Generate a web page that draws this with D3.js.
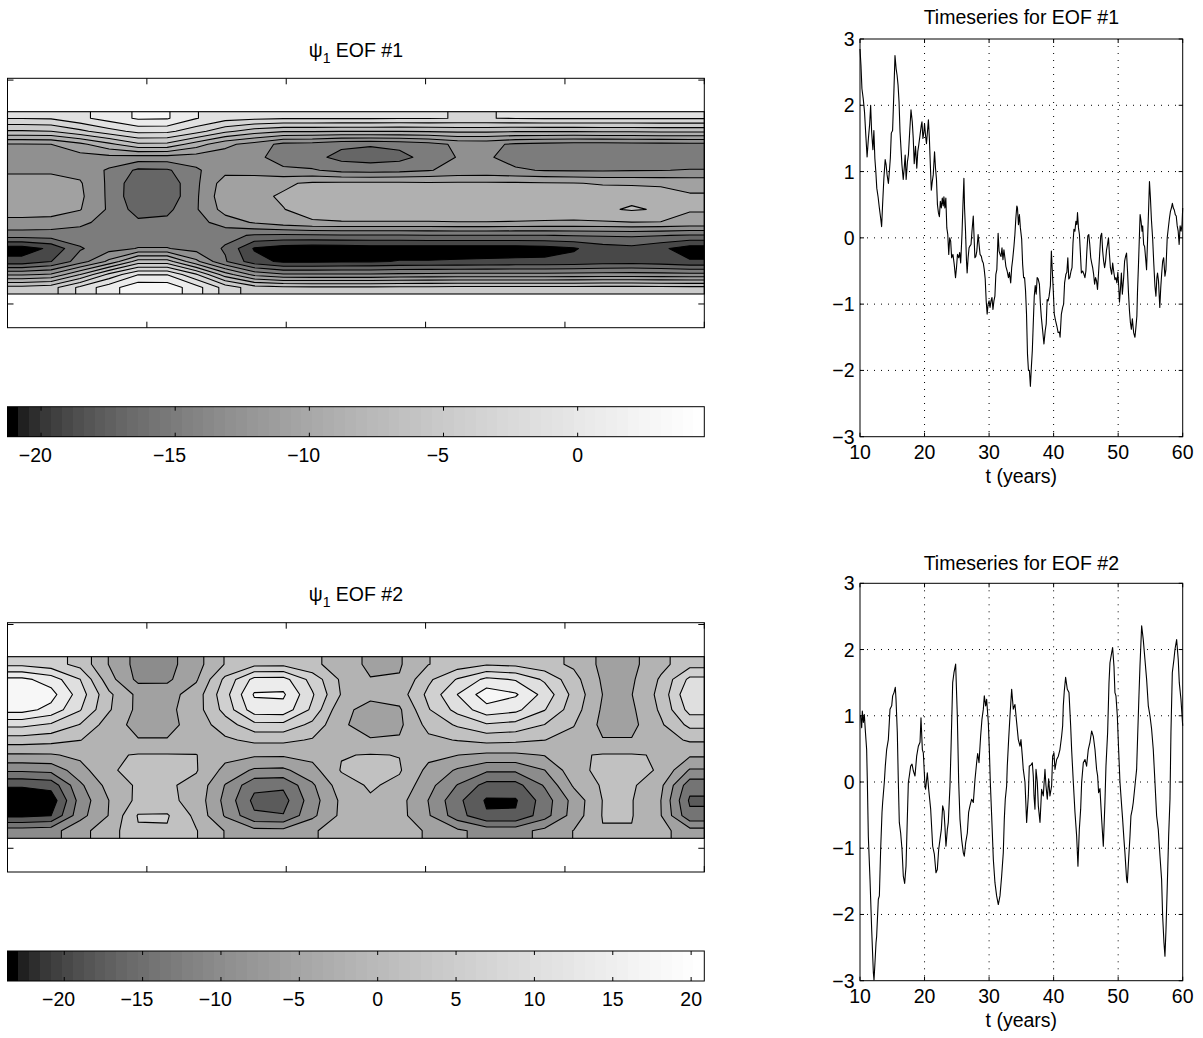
<!DOCTYPE html>
<html>
<head>
<meta charset="utf-8">
<script src="https://cdn.jsdelivr.net/npm/d3@7"></script>
<style>
  body { margin: 0; background: #fff; }
  text { font-family: "Liberation Sans", Arial, Helvetica, sans-serif; font-size: 19.5px; fill: #000; }
</style>
</head>
<body>
<svg id="fig" width="1203" height="1038"></svg>
<script>
// ---- data ----
// EOF #1 spatial pattern, rows top -> bottom, columns left -> right
const eof1Field = [
  [-1.9,-1.8,-0.5,0.9,2.3,2.2,0.1,-1.2,-1.6,-1.8,-1.8,-1.8,-1.8,-1.9,-1.9,-2.05,-2.05,-1.9,-1.8,-1.8,-1.8,-1.8,-1.8,-1.8],
  [-6.2,-6.0,-4.5,-2.8,-1.4,-1.5,-3.2,-5.5,-7.0,-7.8,-7.8,-7.9,-7.9,-7.9,-7.8,-7.6,-7.6,-7.8,-7.8,-7.8,-7.7,-7.7,-7.6,-7.6],
  [-12.1,-12.0,-10.5,-8.5,-6.4,-6.5,-9.0,-11.5,-12.8,-14.6,-14.8,-15.6,-15.8,-15.5,-14.8,-13.6,-13.5,-14.3,-14.6,-14.8,-14.8,-14.7,-14.6,-14.5],
  [-13.0,-13.0,-12.8,-12.6,-12.8,-12.8,-13.0,-13.0,-13.4,-15.0,-15.4,-16.6,-16.9,-16.6,-15.3,-13.9,-13.8,-14.6,-15.2,-15.3,-15.4,-15.4,-15.3,-15.2],
  [-12.4,-12.4,-12.6,-14.3,-16.4,-16.3,-14.3,-12.6,-12.8,-13.6,-13.8,-14.6,-14.8,-14.6,-14.1,-13.5,-13.4,-13.8,-14.1,-14.2,-14.2,-14.1,-14.05,-13.9],
  [-11.0,-11.0,-11.8,-14.4,-17.5,-17.3,-14.4,-11.0,-10.8,-10.3,-9.7,-9.6,-9.6,-9.6,-9.7,-9.7,-9.7,-9.7,-9.8,-9.9,-10.2,-10.3,-10.4,-10.6],
  [-10.6,-10.6,-11.6,-14.4,-17.6,-17.4,-14.3,-10.6,-10.4,-9.8,-9.2,-9.0,-8.9,-8.9,-8.9,-8.9,-8.9,-8.9,-8.9,-8.8,-8.7,-8.5,-8.9,-9.8],
  [-11.0,-11.0,-11.9,-14.3,-16.9,-16.5,-14.2,-11.2,-10.6,-10.05,-9.3,-9.1,-9.0,-9.0,-9.0,-9.0,-9.0,-8.9,-8.8,-8.7,-8.3,-7.8,-8.2,-9.9],
  [-12.6,-12.8,-13.5,-14.8,-15.6,-15.5,-14.8,-13.0,-11.8,-10.8,-10.2,-10.1,-10.1,-10.1,-10.1,-10.05,-10.05,-10.1,-10.2,-10.3,-10.2,-10.05,-10.1,-10.4],
  [-15.0,-15.0,-15.0,-15.2,-15.4,-15.4,-15.2,-15.5,-16.2,-16.4,-16.3,-16.2,-16.2,-16.2,-16.1,-16.05,-16.05,-16.05,-16.05,-15.9,-15.8,-15.7,-15.9,-16.2],
  [-21.0,-19.6,-16.2,-14.8,-13.9,-13.9,-14.8,-16.2,-20.2,-21.0,-21.25,-21.2,-21.0,-21.0,-21.0,-21.0,-21.0,-21.0,-20.8,-20.2,-19.0,-18.6,-19.6,-21.0],
  [-19.3,-18.05,-15.0,-11.5,-7.1,-7.1,-11.5,-15.8,-19.2,-20.4,-20.4,-20.3,-20.2,-19.9,-19.9,-19.8,-19.7,-19.6,-19.6,-19.4,-19.05,-18.9,-19.2,-19.8],
  [-12.3,-11.8,-8.05,-3.5,-0.1,-0.1,-3.8,-9.05,-12.6,-13.8,-13.8,-13.8,-13.8,-13.6,-13.5,-13.4,-13.4,-13.4,-13.4,-13.3,-13.2,-13.2,-13.3,-13.4],
  [-5.3,-4.8,-1.5,1.2,3.4,3.3,0.8,-2.8,-5.05,-5.5,-5.6,-5.6,-5.6,-5.5,-5.5,-5.4,-5.4,-5.4,-5.4,-5.4,-5.3,-5.3,-5.4,-5.5]
];
const eof1Levels = [-20, -18, -16, -14, -12, -10, -8, -6, -4, -2, 0, 2, 4];
const eof1Range = [-21.25, 4.72];
const eof1Ticks = [-20, -15, -10, -5, 0];

// EOF #2 spatial pattern
const eof2Field = [
  [7.0,5.7,2.7,-4.2,-9.5,-9.4,-5.5,0.25,2.85,2.9,0.75,-1.55,-5.0,-4.4,-0.1,1.8,3.5,3.0,1.4,-0.7,-5.0,-5.0,-1.2,2.5],
  [17.0,14.2,8.05,-2.5,-9.05,-8.8,-4.5,5.0,13.3,13.5,6.5,-0.74,-3.8,-3.7,3.2,8.35,13.0,11.65,7.3,1.45,-4.6,-4.6,0.5,9.0],
  [19.7,17.5,10.05,0.8,-5.05,-5.6,-2.05,6.55,16.4,16.6,8.45,-0.29,-3.2,-2.05,5.05,12.05,18.3,16.5,10.6,2.7,-4.05,-4.1,1.2,11.5],
  [17.5,14.7,8.3,0.4,-5.05,-5.05,-1.8,5.4,14.3,14.5,7.1,-3.2,-5.05,-4.6,3.7,9.4,14.5,13.05,8.2,1.8,-4.6,-4.7,0.6,9.5],
  [9.05,7.4,3.8,-2.05,-5.3,-5.3,-2.2,2.05,6.7,6.8,2.95,-3.6,-5.2,-4.8,1.3,4.55,7.5,6.65,3.9,0.2,-5.05,-5.05,-0.6,5.05],
  [2.05,1.4,0.1,-1.8,-3.8,-3.8,-2.2,-0.65,0.9,0.9,-0.35,-2.5,-3.8,-3.6,-0.9,0.2,1.2,0.9,0.05,-1.3,-3.8,-3.8,-1.6,0.5],
  [-4.5,-4.4,-3.05,-0.6,0.3,0.3,0.1,-2.7,-3.45,-3.5,-2.75,-0.2,0.2,-0.1,-2.9,-3.96,-4.8,-4.8,-3.8,-0.5,0.3,0.3,-0.3,-3.4],
  [-11.3,-10.8,-5.6,-0.5,1.2,1.2,0.3,-5.2,-8.6,-8.8,-5.4,0.3,1.05,0.4,-5.1,-8.5,-11.3,-11.3,-8.05,-1.5,1.2,1.2,-0.4,-8.4],
  [-19.5,-18.6,-8.8,-2.5,0.6,0.6,-1.2,-8.2,-14.9,-15.3,-8.65,-1.8,0.5,-1.05,-6.65,-12.2,-17.5,-17.5,-11.6,-3.5,0.5,0.6,-3.05,-14.5],
  [-23.6,-22.5,-10.4,-3.95,1.05,1.05,-1.5,-9.2,-17.05,-17.5,-9.75,-3.2,-0.5,-2.6,-8.1,-14.95,-20.5,-20.4,-14.05,-6.6,0.1,0.2,-3.95,-16.6],
  [-21.05,-20.05,-9.4,-3.8,4.3,4.4,-1.05,-8.4,-15.4,-15.8,-8.9,-3.1,-1.7,-2.6,-7.6,-14.2,-19.6,-19.6,-13.6,-6.25,0.2,0.2,-3.8,-15.05],
  [-10.05,-9.6,-5.1,-2.05,3.6,3.6,0.2,-4.2,-6.65,-6.8,-4.4,-2.4,-1.9,-2.2,-4.5,-7.25,-9.5,-9.5,-6.9,-3.9,-0.2,-0.2,-2.6,-6.5]
];
const eof2Levels = [-20, -16, -12, -8, -4, 0, 4, 8, 12, 16, 20];
const eof2Range = [-23.62, 20.84];
const eof2Ticks = [-20, -15, -10, -5, 0, 5, 10, 15, 20];

const mapXTicks = [0, 1, 2, 3, 4, 5];
const mapYTicks = [0, 1];

// principal component timeseries
const ts1Years = [10.0,10.15,10.3,10.5,10.7,10.9,11.1,11.3,11.5,11.65,11.8,12.0,12.15,12.3,12.45,12.6,12.8,13.0,13.2,13.35,13.5,13.7,13.9,14.05,14.2,14.4,14.55,14.7,14.85,15.05,15.25,15.42,15.6,15.75,15.9,16.05,16.2,16.35,16.5,16.7,16.85,17.0,17.15,17.35,17.5,17.7,17.9,18.1,18.25,18.4,18.6,18.8,18.95,19.1,19.3,19.5,19.6,19.75,19.9,20.0,20.15,20.3,20.45,20.6,20.75,20.9,21.05,21.2,21.35,21.55,21.7,21.85,22.0,22.15,22.3,22.45,22.6,22.75,22.9,23.0,23.15,23.3,23.45,23.6,23.75,23.9,24.05,24.2,24.4,24.6,24.8,24.95,25.1,25.3,25.45,25.6,25.8,25.95,26.1,26.2,26.35,26.5,26.6,26.75,26.9,27.05,27.2,27.35,27.55,27.7,27.8,27.95,28.1,28.3,28.45,28.6,28.8,28.95,29.1,29.25,29.4,29.55,29.7,29.85,30.0,30.15,30.3,30.45,30.6,30.75,30.9,31.05,31.2,31.4,31.55,31.7,31.85,32.0,32.15,32.3,32.45,32.6,32.8,33.0,33.15,33.35,33.5,33.65,33.85,34.0,34.15,34.3,34.4,34.55,34.7,34.85,35.05,35.2,35.35,35.5,35.65,35.8,35.95,36.1,36.25,36.4,36.55,36.7,36.85,37.0,37.15,37.3,37.45,37.6,37.8,37.95,38.1,38.3,38.5,38.7,38.85,39.0,39.15,39.3,39.5,39.65,39.8,39.95,40.1,40.3,40.5,40.7,40.9,41.0,41.2,41.4,41.55,41.7,41.9,42.05,42.2,42.35,42.5,42.7,42.85,43.0,43.15,43.3,43.45,43.6,43.7,43.85,44.0,44.15,44.3,44.5,44.7,44.85,45.0,45.15,45.3,45.45,45.6,45.75,45.9,46.05,46.2,46.35,46.5,46.65,46.8,46.95,47.1,47.3,47.45,47.6,47.75,47.9,48.05,48.2,48.35,48.5,48.65,48.8,49.0,49.15,49.3,49.5,49.65,49.8,49.95,50.1,50.2,50.35,50.5,50.65,50.85,51.0,51.15,51.3,51.45,51.6,51.75,51.9,52.05,52.2,52.4,52.6,52.75,52.9,53.0,53.15,53.3,53.4,53.55,53.7,53.8,53.95,54.1,54.25,54.4,54.55,54.7,54.85,55.0,55.15,55.35,55.5,55.7,55.85,56.0,56.1,56.25,56.45,56.6,56.75,56.9,57.05,57.25,57.4,57.6,57.75,57.95,58.1,58.25,58.4,58.55,58.7,58.85,59.0,59.15,59.3,59.45,59.6,59.75,59.9,60.0];
const ts1Values = [2.85,2.6,2.25,2.1,1.9,1.55,1.22,1.5,1.72,2.0,1.6,1.33,1.62,1.2,1.0,0.75,0.62,0.45,0.3,0.17,0.5,0.9,1.18,1.1,0.95,0.82,1.0,1.2,1.58,1.62,2.2,2.75,2.55,2.45,2.3,2.05,1.6,1.35,1.1,0.88,1.05,1.25,0.88,1.15,1.25,1.6,1.93,1.75,1.5,1.12,1.38,1.05,1.3,1.4,1.55,1.7,1.75,1.5,1.6,1.72,1.55,1.42,1.6,1.78,1.5,1.1,0.72,0.85,0.95,1.3,1.05,0.88,0.5,0.38,0.32,0.55,0.45,0.6,0.48,0.62,0.45,0.6,0.15,0.05,-0.25,0.0,-0.05,-0.3,-0.25,-0.4,-0.6,-0.45,-0.25,-0.3,-0.22,-0.38,0.05,0.5,0.9,0.45,0.1,-0.35,-0.53,-0.3,-0.15,-0.12,-0.1,0.1,0.33,-0.05,-0.3,-0.28,-0.2,0.05,-0.1,-0.25,-0.28,-0.35,-0.38,-0.48,-0.62,-0.95,-1.15,-1.0,-0.95,-1.05,-0.95,-0.9,-1.08,-0.95,-0.88,-0.55,-0.48,0.07,-0.2,-0.25,-0.28,-0.15,-0.33,-0.18,-0.3,-0.43,-0.5,-0.6,-0.52,-0.68,-0.45,-0.33,-0.13,0.05,0.3,0.48,0.45,0.2,0.35,0.15,-0.02,-0.4,-0.6,-0.6,-0.8,-1.15,-1.75,-2.0,-2.0,-2.24,-1.95,-1.7,-1.28,-0.88,-0.72,-0.85,-0.6,-0.62,-0.7,-1.0,-1.2,-1.4,-1.6,-1.4,-1.3,-0.93,-0.95,-0.88,-0.72,-0.2,-0.5,-0.8,-1.15,-1.25,-1.33,-1.43,-1.42,-1.5,-1.15,-1.05,-1.0,-0.68,-0.55,-0.52,-0.3,-0.62,-0.6,-0.5,-0.45,-0.08,0.13,0.1,0.25,0.2,0.38,0.15,0.05,-0.23,-0.53,-0.5,-0.55,-0.6,-0.5,-0.2,0.03,0.05,-0.1,-0.3,-0.38,-0.45,-0.55,-0.7,-0.6,-0.65,-0.78,-0.55,-0.3,0.03,0.07,-0.2,-0.35,-0.45,-0.35,-0.18,-0.1,0.0,-0.25,-0.45,-0.55,-0.38,-0.5,-0.63,-0.6,-0.68,-0.52,-0.75,-0.97,-0.78,-0.53,-0.85,-0.6,-0.35,-0.28,-0.23,-0.5,-0.83,-1.1,-1.28,-1.38,-1.22,-1.43,-1.5,-1.35,-1.18,-0.8,-0.4,0.05,0.35,0.25,0.1,0.18,-0.1,-0.13,-0.3,-0.48,-0.05,0.38,0.85,0.6,0.28,-0.02,-0.35,-0.73,-0.88,-0.6,-0.53,-0.65,-1.05,-0.75,-0.53,-0.35,-0.3,-0.58,-0.48,0.0,0.13,0.3,0.4,0.45,0.52,0.45,0.42,0.35,0.33,0.18,0.1,-0.1,0.18,0.1,0.2,0.45];

const ts2Years = [10.0,10.1,10.26,10.36,10.52,10.67,10.83,11.03,11.14,11.29,11.55,11.81,12.07,12.17,12.32,12.48,12.58,12.84,13.0,13.2,13.41,13.51,13.77,13.92,14.13,14.39,14.54,14.65,14.91,15.06,15.27,15.47,15.58,15.78,15.94,16.09,16.3,16.51,16.71,16.92,17.13,17.33,17.49,17.64,17.85,18.06,18.26,18.52,18.78,19.04,19.3,19.45,19.66,19.81,20.07,20.17,20.43,20.64,20.95,21.26,21.52,21.77,21.98,22.19,22.39,22.6,22.81,23.01,23.17,23.32,23.53,23.68,23.94,24.1,24.36,24.56,24.82,25.08,25.29,25.49,25.75,26.01,26.16,26.37,26.63,26.83,27.04,27.3,27.56,27.82,27.92,28.07,28.23,28.44,28.69,28.9,29.11,29.26,29.47,29.62,29.88,30.04,30.19,30.4,30.66,30.91,31.17,31.43,31.69,31.95,32.2,32.36,32.51,32.72,32.82,33.03,33.24,33.5,33.75,34.01,34.27,34.53,34.79,34.94,35.15,35.3,35.56,35.82,36.08,36.23,36.44,36.7,36.85,36.96,37.11,37.27,37.47,37.63,37.89,38.14,38.4,38.66,38.81,39.02,39.23,39.43,39.69,39.85,40.05,40.21,40.47,40.73,40.98,41.24,41.4,41.5,41.65,41.86,42.12,42.38,42.64,42.79,43.05,43.31,43.57,43.77,43.98,44.19,44.34,44.6,44.86,45.11,45.37,45.63,45.89,46.15,46.41,46.66,46.82,46.97,47.18,47.44,47.7,47.95,48.11,48.37,48.58,48.73,48.99,49.14,49.35,49.5,49.66,49.87,50.07,50.28,50.54,50.69,50.9,51.05,51.31,51.42,51.62,51.83,51.98,52.19,52.34,52.6,52.86,53.02,53.22,53.38,53.64,53.89,54.15,54.41,54.67,54.93,55.18,55.44,55.7,55.96,56.22,56.48,56.73,56.89,57.1,57.25,57.41,57.61,57.82,58.03,58.18,58.39,58.64,58.8,59.06,59.31,59.47,59.73,60.0];
const ts2Values = [1.0,1.0,0.82,1.07,0.9,1.02,0.77,0.49,0.0,-0.82,-1.47,-2.23,-2.88,-2.99,-2.73,-2.43,-2.33,-1.77,-1.72,-1.02,-0.46,-0.31,0.0,0.24,0.49,0.64,0.9,1.1,1.15,1.3,1.35,1.43,1.25,0.75,0.0,-0.61,-0.77,-1.02,-1.42,-1.53,-1.27,-0.56,-0.01,0.09,0.24,0.27,0.17,0.09,0.39,0.54,0.6,0.97,0.49,0.44,-0.06,-0.11,0.14,-0.11,-0.41,-0.97,-1.09,-1.37,-1.32,-1.02,-0.87,-0.72,-0.36,-0.44,-0.69,-0.97,-0.72,-0.61,-0.06,0.49,1.5,1.65,1.78,1.0,0.0,-0.56,-0.87,-1.07,-1.12,-0.92,-0.77,-0.46,-0.36,-0.26,-0.31,0.04,0.14,0.29,0.43,0.29,0.69,0.95,1.1,1.3,1.15,1.25,0.9,0.49,0.0,-0.51,-1.17,-1.52,-1.72,-1.85,-1.72,-1.42,-1.07,-0.56,-0.26,-0.06,0.24,0.64,1.0,1.4,1.1,1.17,0.9,0.64,0.54,0.64,0.39,0.19,0.0,-0.61,-0.21,0.24,0.25,0.29,0.09,-0.21,-0.41,0.19,0.0,-0.36,-0.61,-0.11,-0.21,0.19,-0.05,-0.26,0.05,-0.21,-0.06,0.39,0.44,0.19,0.34,0.39,0.49,0.69,0.85,1.15,1.37,1.58,1.4,1.35,0.85,0.49,0.0,-0.46,-0.82,-1.27,-0.72,-0.41,-0.01,0.29,0.34,0.24,0.49,0.6,0.77,0.69,0.49,0.19,0.09,-0.16,-0.1,-0.56,-0.97,-0.31,0.24,0.75,1.5,1.8,1.95,2.03,1.75,1.35,1.3,1.0,0.49,0.0,-0.36,-0.56,-0.87,-1.07,-1.47,-1.52,-1.17,-0.82,-0.51,-0.41,-0.31,-0.06,0.19,0.69,1.3,1.75,2.36,2.15,1.85,1.55,1.15,1.0,0.8,0.49,0.0,-0.51,-0.72,-1.12,-1.47,-2.02,-2.43,-2.63,-2.23,-1.57,-0.82,-0.26,0.75,1.65,1.85,2.0,2.15,1.85,1.5,1.25,0.85];

const tsYearTicks = [10, 20, 30, 40, 50, 60];
const tsValueTicks = [-3, -2, -1, 0, 1, 2, 3];

// ---- layout ----
const svg = d3.select("#fig");
const mapLeft = 7.5, mapRight = 704.3;
const tsLeft = 860, tsRight = 1182.7;
const fmt = d => d < 0 ? "\u2212" + Math.abs(d) : String(d);

// MATLAB-like gray colormap (64 steps) as it appears in the picture
function grayScale(range) {
  const t = d3.scaleLinear().domain(range).range([0, 64]).clamp(true);
  return v => {
    const i = Math.min(63, Math.floor(t(v)));
    const g = Math.round(255 * Math.sqrt(i / 63));
    return d3.rgb(g, g, g).formatHex();
  };
}

function drawMap(cfg) {
  const grid = cfg.field, levels = cfg.levels;
  const ny = grid.length, nx = grid[0].length;
  // repeat the border cells once so that the edges of the field are not cut at the corners
  const padded = [grid[0], ...grid, grid[ny - 1]].map(r => [r[0], ...r, r[r.length - 1]]);
  const color = grayScale(cfg.range);
  const gx = d3.scaleLinear([1, nx + 1], [mapLeft, mapRight]);
  const gy = d3.scaleLinear([1, ny + 1], [cfg.fieldTop, cfg.fieldBottom]);
  const path = d3.geoPath(d3.geoTransform({
    point(x, y) { this.stream.point(gx(x), gy(y)); }
  }));
  const g = svg.append("g");
  const clipId = "field" + cfg.n;
  svg.append("clipPath").attr("id", clipId).append("rect")
    .attr("x", mapLeft).attr("y", cfg.fieldTop)
    .attr("width", mapRight - mapLeft).attr("height", cfg.fieldBottom - cfg.fieldTop);

  const field = g.append("g").attr("clip-path", `url(#${clipId})`);
  field.append("rect")
    .attr("x", mapLeft).attr("y", cfg.fieldTop)
    .attr("width", mapRight - mapLeft).attr("height", cfg.fieldBottom - cfg.fieldTop)
    .attr("fill", color(cfg.range[0]));

  const bands = d3.contours().size([nx + 2, ny + 2]).thresholds(levels)(padded.flat());
  field.selectAll("path.band").data(bands).join("path")
    .attr("class", "band")
    .attr("d", path)
    .attr("fill", d => {
      const k = levels.indexOf(d.value);
      return color(k < levels.length - 1 ? (levels[k] + levels[k + 1]) / 2 : cfg.range[1]);
    })
    .attr("stroke", "#000")
    .attr("stroke-width", 1.1)
    .attr("stroke-linejoin", "round");

  g.append("rect")
    .attr("x", mapLeft).attr("y", cfg.fieldTop)
    .attr("width", mapRight - mapLeft).attr("height", cfg.fieldBottom - cfg.fieldTop)
    .attr("fill", "none").attr("stroke", "#000").attr("stroke-width", 1.1);

  // axes box with inner ticks
  const ax = d3.scaleLinear([0, 5], [mapLeft, mapRight]);
  const ay = d3.scaleLinear([-0.106, 1.008], [cfg.boxBottom, cfg.boxTop]);
  g.append("rect")
    .attr("x", mapLeft).attr("y", cfg.boxTop)
    .attr("width", mapRight - mapLeft).attr("height", cfg.boxBottom - cfg.boxTop)
    .attr("fill", "none").attr("stroke", "#000");
  mapXTicks.forEach(t => {
    g.append("line").attr("x1", ax(t)).attr("x2", ax(t))
      .attr("y1", cfg.boxTop).attr("y2", cfg.boxTop + 6).attr("stroke", "#000");
    g.append("line").attr("x1", ax(t)).attr("x2", ax(t))
      .attr("y1", cfg.boxBottom).attr("y2", cfg.boxBottom - 6).attr("stroke", "#000");
  });
  mapYTicks.forEach(t => {
    g.append("line").attr("x1", mapLeft).attr("x2", mapLeft + 6)
      .attr("y1", ay(t)).attr("y2", ay(t)).attr("stroke", "#000");
    g.append("line").attr("x1", mapRight).attr("x2", mapRight - 6)
      .attr("y1", ay(t)).attr("y2", ay(t)).attr("stroke", "#000");
  });

  // title  psi_1 EOF #n
  const title = g.append("text")
    .attr("x", (mapLeft + mapRight) / 2).attr("y", cfg.titleY)
    .attr("text-anchor", "middle");
  title.append("tspan").text("\u03C8");
  title.append("tspan").attr("font-size", 14).attr("dy", 6).text("1");
  title.append("tspan").attr("dy", -6).text(" EOF #" + cfg.n);

  // colorbar
  const cx = d3.scaleLinear(cfg.range, [mapLeft, mapRight]);
  const step = (cfg.range[1] - cfg.range[0]) / 64;
  const cells = d3.range(64);
  g.selectAll("rect.cb").data(cells).join("rect")
    .attr("class", "cb")
    .attr("x", i => cx(cfg.range[0] + i * step))
    .attr("width", (mapRight - mapLeft) / 64 + 0.6)
    .attr("y", cfg.cbTop).attr("height", cfg.cbBottom - cfg.cbTop)
    .attr("fill", i => color(cfg.range[0] + (i + 0.5) * step))
    .attr("shape-rendering", "crispEdges");
  g.append("rect")
    .attr("x", mapLeft).attr("y", cfg.cbTop)
    .attr("width", mapRight - mapLeft).attr("height", cfg.cbBottom - cfg.cbTop)
    .attr("fill", "none").attr("stroke", "#000");
  cfg.ticks.forEach(t => {
    g.append("line").attr("x1", cx(t)).attr("x2", cx(t))
      .attr("y1", cfg.cbTop).attr("y2", cfg.cbTop + 4).attr("stroke", "#000");
    g.append("line").attr("x1", cx(t)).attr("x2", cx(t))
      .attr("y1", cfg.cbBottom).attr("y2", cfg.cbBottom - 4).attr("stroke", "#000");
    g.append("text").attr("x", cx(t)).attr("y", cfg.cbBottom + 25)
      .attr("text-anchor", "middle")
      .attr("dx", t < 0 ? "-0.29em" : 0)
      .text(fmt(t));
  });
}

function drawSeries(cfg) {
  const g = svg.append("g");
  const x = d3.scaleLinear([10, 60], [tsLeft, tsRight]);
  const y = d3.scaleLinear([-3, 3], [cfg.bottom, cfg.top]);

  // dotted grid
  g.selectAll("line.gx").data(tsYearTicks.slice(1, -1)).join("line")
    .attr("class", "gx")
    .attr("x1", d => x(d)).attr("x2", d => x(d))
    .attr("y1", cfg.top).attr("y2", cfg.bottom);
  g.selectAll("line.gy").data(tsValueTicks.slice(1, -1)).join("line")
    .attr("class", "gy")
    .attr("x1", tsLeft).attr("x2", tsRight)
    .attr("y1", d => y(d)).attr("y2", d => y(d));
  g.selectAll("line.gx, line.gy")
    .attr("stroke", "#000").attr("stroke-width", 1).attr("stroke-dasharray", "1,6");

  g.append("path")
    .datum(d3.zip(cfg.years, cfg.values))
    .attr("d", d3.line().x(d => x(d[0])).y(d => y(d[1])))
    .attr("fill", "none").attr("stroke", "#000").attr("stroke-width", 1.1)
    .attr("stroke-linejoin", "round");

  g.append("rect")
    .attr("x", tsLeft).attr("y", cfg.top)
    .attr("width", tsRight - tsLeft).attr("height", cfg.bottom - cfg.top)
    .attr("fill", "none").attr("stroke", "#000");

  tsYearTicks.forEach(t => {
    g.append("line").attr("x1", x(t)).attr("x2", x(t))
      .attr("y1", cfg.bottom).attr("y2", cfg.bottom - 4).attr("stroke", "#000");
    g.append("line").attr("x1", x(t)).attr("x2", x(t))
      .attr("y1", cfg.top).attr("y2", cfg.top + 4).attr("stroke", "#000");
    g.append("text").attr("x", x(t)).attr("y", cfg.bottom + 22.5)
      .attr("text-anchor", "middle").text(fmt(t));
  });
  tsValueTicks.forEach(t => {
    g.append("line").attr("x1", tsLeft).attr("x2", tsLeft + 4)
      .attr("y1", y(t)).attr("y2", y(t)).attr("stroke", "#000");
    g.append("line").attr("x1", tsRight).attr("x2", tsRight - 4)
      .attr("y1", y(t)).attr("y2", y(t)).attr("stroke", "#000");
    g.append("text").attr("x", tsLeft - 5.5).attr("y", y(t) + 7)
      .attr("text-anchor", "end").text(fmt(t));
  });

  g.append("text").attr("x", (tsLeft + tsRight) / 2).attr("y", cfg.bottom + 46)
    .attr("text-anchor", "middle").text("t (years)");
  g.append("text").attr("x", (tsLeft + tsRight) / 2).attr("y", cfg.titleY)
    .attr("text-anchor", "middle").text("Timeseries for EOF #" + cfg.n);
}

drawMap({
  n: 1, field: eof1Field, levels: eof1Levels, range: eof1Range, ticks: eof1Ticks,
  boxTop: 78.3, boxBottom: 327.7, fieldTop: 111.7, fieldBottom: 294,
  titleY: 56.6, cbTop: 406.7, cbBottom: 436.7
});
drawMap({
  n: 2, field: eof2Field, levels: eof2Levels, range: eof2Range, ticks: eof2Ticks,
  boxTop: 622.7, boxBottom: 872, fieldTop: 656.7, fieldBottom: 838.3,
  titleY: 601, cbTop: 951, cbBottom: 981
});
drawSeries({ n: 1, years: ts1Years, values: ts1Values, top: 39, bottom: 436.7, titleY: 23.5 });
drawSeries({ n: 2, years: ts2Years, values: ts2Values, top: 583.3, bottom: 980.7, titleY: 570 });
</script>
</body>
</html>
